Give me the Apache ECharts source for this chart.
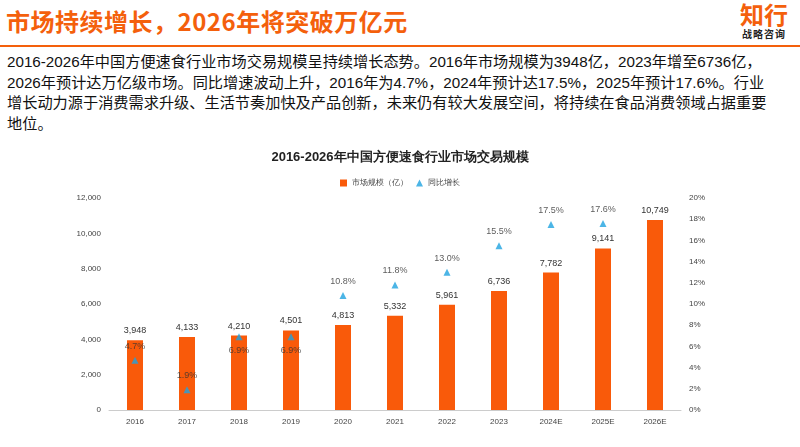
<!DOCTYPE html><html><head><meta charset="utf-8">
<script src="https://cdn.jsdelivr.net/npm/echarts@6/dist/echarts.min.js"></script>
<style>body{margin:0;width:800px;height:447px;background:#fff;position:relative;overflow:hidden;font-family:"Noto Sans CJK SC",sans-serif}
#t{position:absolute;left:6px;top:3px;font-size:24px;font-weight:bold;color:#F4600C;letter-spacing:0.5px}
#logo{position:absolute;right:12px;top:0px;text-align:center;color:#F4600C;font-weight:bold;font-size:24px;line-height:28px}
#logo div{font-size:10px;color:#222;line-height:12px;letter-spacing:1px}
#ln{position:absolute;left:0;top:45px;width:800px;height:2px;background:#F4600C}
#p{position:absolute;left:7px;top:52px;width:800px;white-space:nowrap;font-size:15.2px;line-height:20.5px;color:#111;font-family:"Liberation Sans","Noto Sans CJK SC",sans-serif}
#c{position:absolute;left:0;top:140px;width:800px;height:307px}</style></head><body>
<div id="t">市场持续增长，2026年将突破万亿元</div>
<div id="logo">知行<div>战略咨询</div></div>
<div id="ln"></div>
<div id="p">2016-2026年中国方便速食行业市场交易规模呈持续增长态势。2016年市场规模为3948亿，2023年增至6736亿，<br>2026年预计达万亿级市场。同比增速波动上升，2016年为4.7%，2024年预计达17.5%，2025年预计17.6%。行业<br>增长动力源于消费需求升级、生活节奏加快及产品创新，未来仍有较大发展空间，将持续在食品消费领域占据重要<br>地位。</div>
<div id="c"></div>
<script>
const categories=['2016','2017','2018','2019','2020','2021','2022','2023','2024E','2025E','2026E'];
const marketSize=[3948,4133,4210,4501,4813,5332,5961,6736,7782,9141,10749];
const growth=[4.7,1.9,6.9,6.9,10.8,11.8,13.0,15.5,17.5,17.6,null];
const labelBelow=[false,false,true,true,false,false,false,false,false,false,false];
const ch=echarts.init(document.getElementById('c'));
ch.setOption({
 title:{text:'2016-2026年中国方便速食行业市场交易规模',left:'center',top:6,textStyle:{fontSize:13,fontWeight:'bold',color:'#222'}},
 legend:{top:34,left:'center',itemWidth:7,itemHeight:7,textStyle:{fontSize:8,color:'#444'},data:[{name:'市场规模（亿）',icon:'rect'},{name:'同比增长',icon:'triangle'}]},
 grid:{left:109,right:119,top:58,bottom:37},
 xAxis:{type:'category',data:categories,axisTick:{show:false},axisLine:{lineStyle:{color:'#ccc'}},axisLabel:{fontSize:8,color:'#444'}},
 yAxis:[{type:'value',min:0,max:12000,interval:2000,splitLine:{show:false},axisLabel:{fontSize:8,color:'#444',formatter:v=>v.toLocaleString('en-US')}},
  {type:'value',min:0,max:20,interval:2,splitLine:{show:false},axisLabel:{fontSize:8,color:'#444',formatter:'{value}%'}}],
 series:[{name:'市场规模（亿）',type:'bar',data:marketSize,barWidth:16,itemStyle:{color:'#F95A0A'},label:{show:true,position:'top',fontSize:9,color:'#333',formatter:p=>p.value.toLocaleString('en-US')}},
  {name:'同比增长',type:'scatter',yAxisIndex:1,symbol:'triangle',symbolSize:7,itemStyle:{color:'#1FA3E0'},
   data:growth.map((v,i)=>({value:v,label:{position:labelBelow[i]?'bottom':'top'}})),
   label:{show:true,distance:6,fontSize:9,color:'#333',formatter:p=>p.value.toFixed(1)+'%'}}]
});
</script></body></html>
